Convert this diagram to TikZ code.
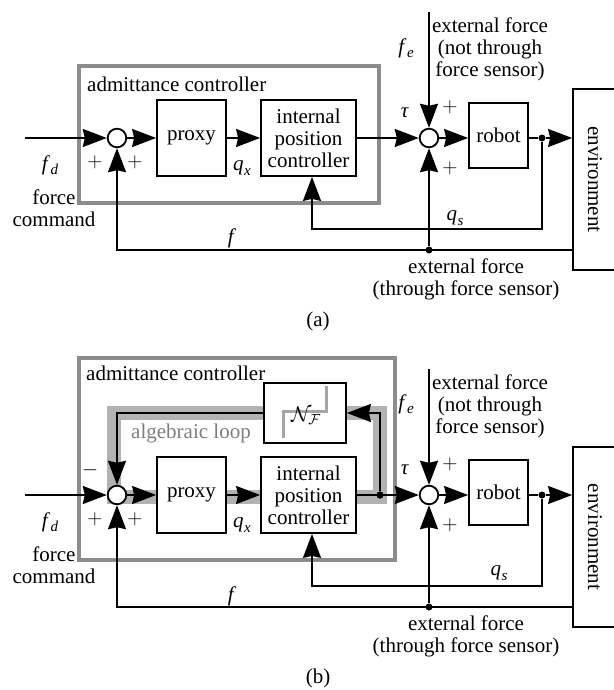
\documentclass[tikz,border=0pt]{standalone}
\usepackage{fix-cm}
\usepackage{fontspec}
\setmainfont{Liberation Serif}
\usetikzlibrary{arrows.meta,calc}
\definecolor{boxgray}{RGB}{140,140,140}
\definecolor{bandgray}{RGB}{178,178,178}
\definecolor{textgray}{RGB}{125,125,125}
\definecolor{icongray}{RGB}{165,165,165}
\newcommand\isym[2]{\textit{#1}\kern0.5pt\raisebox{-4.5pt}{\fontsize{15}{15}\selectfont\textit{#2}}}
\tikzset{
  every node/.style={font=\fontsize{21}{22}\selectfont},
  lbl/.style={inner sep=0pt},
  blk/.style={draw, fill=white, line width=1.8pt, inner sep=0pt, align=center},
  sumnode/.style={circle, draw, fill=white, line width=1.8pt, minimum size=18.6pt, inner sep=0pt},
  dotnode/.style={circle, fill=black, minimum size=7pt, inner sep=0pt},
  graybox/.style={draw=boxgray, line width=3.5pt, inner sep=0pt},
  arr/.style={line width=1.8pt, -{Stealth[length=24pt,width=18pt,inset=2pt]}},
  wire/.style={line width=1.8pt},
}
\begin{document}
\begin{tikzpicture}[x=1pt,y=-1pt]
\useasboundingbox (0,0) rectangle (613,690);

% ================= panel (a) =================
\node[graybox, minimum width=300pt, minimum height=137pt] (ga) at (229,134.5) {};
\node[lbl, anchor=west] (ta) at (87,84) {admittance controller};

\node[blk, minimum width=69pt, minimum height=76pt] (proxya) at (191.5,138) {proxy};
\node[blk, minimum width=95pt, minimum height=76pt] (ctrla) at (308.5,138) {internal\\position\\controller};
\node[blk, minimum width=59pt, minimum height=65pt] (robota) at (498.5,135.5) {robot};
\node[blk, minimum width=44pt, minimum height=181pt] (enva) at (595,179.5) {\rotatebox{-90}{environment}};
\node[sumnode] (s1a) at (117,138) {};
\node[sumnode] (s2a) at (429,138) {};
\node[dotnode] (d1a) at (542,138) {};
\node[dotnode] (d2a) at (429,250) {};
\coordinate (ina) at (25,138);
\coordinate (fea) at (429,12);
\coordinate (qsa) at (312,229);

\draw[arr] (ina) -- (s1a.west);
\draw[arr] (s1a.east) -- (proxya.west);
\draw[arr] (proxya.east) -- (ctrla.west);
\draw[arr] (ctrla.east) -- (s2a.west);
\draw[arr] (fea) -- (s2a.north);
\draw[arr] (s2a.east) -- (s2a.east -| robota.west);
\draw[wire] (robota.east |- d1a) -- (d1a);
\draw[arr] (d1a) -- (d1a -| enva.west);
\draw[arr] (d1a) |- (qsa) -- (qsa |- ctrla.south);
\draw[arr] (enva.west |- d2a) -| (s1a.south);
\draw[arr] (d2a) -- (s2a.south);

\node[lbl] (fda) at (50,165) {\isym{f}{d}};
\node[lbl] (p1a) at (95,162) {$+$};
\node[lbl] (p2a) at (135,162) {$+$};
\node[lbl, align=center] (fca) at (54,208) {force\\command};
\node[lbl] (qxa) at (242,168) {\isym{q}{x}};
\node[lbl] (taua) at (405,113) {\textit{τ}};
\node[lbl] (fela) at (406,48) {\isym{f}{e}};
\node[lbl] (p3a) at (450,107) {$+$};
\node[lbl] (p4a) at (450,168) {$+$};
\node[lbl] (qsla) at (455,218) {\isym{q}{s}};
\node[lbl] (fla) at (232,238) {\textit{f}};
\node[lbl, align=center] (eta) at (490,49) {external force\\(not through\\force sensor)};
\node[lbl, align=center] (eba) at (466,279) {external force\\(through force sensor)};
\node[lbl] (capa) at (318,321) {(a)};

% ================= panel (b) =================
\node[graybox, minimum width=316pt, minimum height=202pt] (gb) at (237,459) {};
\node[lbl, anchor=west] (tb) at (86,373) {admittance controller};
% algebraic loop band
\draw[bandgray, line width=14pt] (113.5,412.5) rectangle (380,497);
\node[lbl, text=textgray, anchor=base] (alb) at (191,438) {algebraic loop};

\node[blk, minimum width=69pt, minimum height=76pt] (proxyb) at (191.5,495) {proxy};
\node[blk, minimum width=95pt, minimum height=76pt] (ctrlb) at (308.5,495) {internal\\position\\controller};
\node[blk, minimum width=82pt, minimum height=60pt] (nfb) at (305,413) {};
\draw[icongray, line width=3pt] (283.5,438) -- (283.5,411.5) -- (326.5,411.5) -- (326.5,386);
\node[lbl] (nfl) at (306,416) {$\mathcal{N}_{\mathcal{F}}$};
\node[blk, minimum width=59pt, minimum height=65pt] (robotb) at (498.5,492.5) {robot};
\node[blk, minimum width=44pt, minimum height=180pt] (envb) at (595,537) {\rotatebox{-90}{environment}};
\node[sumnode] (s1b) at (117,495) {};
\node[sumnode] (s2b) at (429,495) {};
\node[dotnode] (d1b) at (542,495) {};
\node[dotnode] (d2b) at (429,607) {};
\node[dotnode] (d3b) at (380,495) {};
\coordinate (inb) at (25,495);
\coordinate (feb) at (429,369);
\coordinate (qsb) at (312,586);

\draw[arr] (inb) -- (s1b.west);
\draw[arr] (s1b.east) -- (proxyb.west);
\draw[arr] (proxyb.east) -- (ctrlb.west);
\draw[arr] (ctrlb.east) -- (s2b.west);
\draw[arr] (d3b) |- (nfb.east);
\draw[arr] (nfb.west) -| (s1b.north);
\draw[arr] (feb) -- (s2b.north);
\draw[arr] (s2b.east) -- (s2b.east -| robotb.west);
\draw[wire] (robotb.east |- d1b) -- (d1b);
\draw[arr] (d1b) -- (d1b -| envb.west);
\draw[arr] (d1b) |- (qsb) -- (qsb |- ctrlb.south);
\draw[arr] (envb.west |- d2b) -| (s1b.south);
\draw[arr] (d2b) -- (s2b.south);
\node[dotnode] at (d3b) {};

\node[lbl] (fdb) at (50,522) {\isym{f}{d}};
\node[lbl] (mb) at (90,470) {$-$};
\node[lbl] (p1b) at (95,519) {$+$};
\node[lbl] (p2b) at (135,519) {$+$};
\node[lbl, align=center] (fcb) at (54,565) {force\\command};
\node[lbl] (qxb) at (242,525) {\isym{q}{x}};
\node[lbl] (taub) at (405,470) {\textit{τ}};
\node[lbl] (felb) at (406,404) {\isym{f}{e}};
\node[lbl] (p3b) at (450,464) {$+$};
\node[lbl] (p4b) at (450,525) {$+$};
\node[lbl] (qslb) at (499,573) {\isym{q}{s}};
\node[lbl] (flb) at (232,596) {\textit{f}};
\node[lbl, align=center] (etb) at (490,406) {external force\\(not through\\force sensor)};
\node[lbl, align=center] (ebb) at (466,636) {external force\\(through force sensor)};
\node[lbl] (capb) at (318,678) {(b)};
\end{tikzpicture}
\end{document}
